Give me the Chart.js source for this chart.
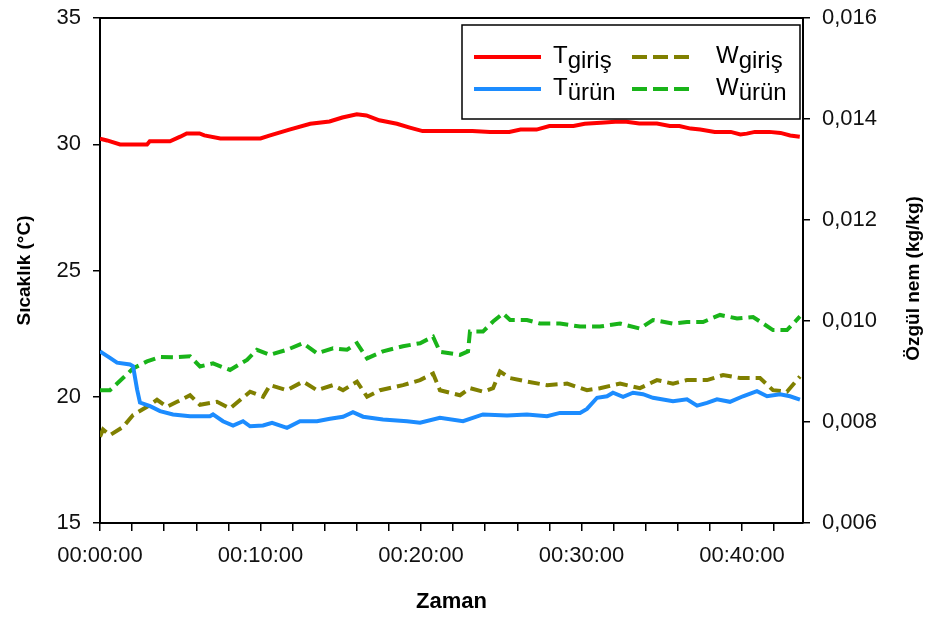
<!DOCTYPE html>
<html>
<head>
<meta charset="utf-8">
<script src="https://cdn.jsdelivr.net/npm/chart.js@4.4.1/dist/chart.umd.min.js"></script>
<style>
  html, body { margin: 0; padding: 0; background: #fff; }
</style>
</head>
<body>
<canvas id="chart" width="934" height="619"></canvas>
<script>
// time axis is in minutes from the start (00:00:00)
const xTickMinutes = [0, 2, 4, 6, 8, 10, 12, 14, 16, 18, 20, 22, 24, 26, 28, 30, 32, 34, 36, 38, 40, 42];
const tempTicks = [15, 20, 25, 30, 35];
const humTicks = [0.006, 0.008, 0.010, 0.012, 0.014, 0.016];

// T giriş (°C)
const tGirisTime = [0, 0.44, 1.25, 2.93, 3.1, 4.36, 5.0, 5.4, 6.2, 6.5, 7.5, 10.0, 10.6, 11.8, 13.1, 14.3, 15.1, 16.0, 16.6, 17.4, 18.5, 19.3, 20.1, 23.2, 24.3, 25.5, 26.2, 27.2, 28.0, 29.5, 30.2, 31.2, 32.1, 32.8, 33.6, 34.7, 35.5, 36.1, 36.8, 37.4, 38.3, 39.3, 39.9, 40.3, 40.8, 41.7, 42.4, 43.0, 43.6];
const tGiris = [30.22, 30.15, 29.99, 29.99, 30.12, 30.12, 30.3, 30.43, 30.43, 30.35, 30.23, 30.23, 30.35, 30.58, 30.81, 30.9, 31.06, 31.19, 31.14, 30.95, 30.81, 30.66, 30.52, 30.52, 30.49, 30.49, 30.58, 30.58, 30.72, 30.72, 30.81, 30.85, 30.89, 30.89, 30.82, 30.82, 30.72, 30.72, 30.62, 30.58, 30.49, 30.49, 30.39, 30.42, 30.49, 30.49, 30.45, 30.35, 30.3];

// T ürün (°C)
const tUrunTime = [0, 0.62, 1.06, 1.87, 2.06, 2.31, 2.49, 3.12, 3.74, 4.55, 5.61, 6.85, 7.04, 7.66, 8.29, 8.91, 9.35, 10.16, 10.72, 11.65, 12.46, 13.52, 14.33, 15.14, 15.76, 16.39, 17.63, 19.13, 19.94, 21.18, 22.62, 23.86, 25.36, 26.6, 27.85, 28.66, 29.91, 30.34, 30.97, 31.59, 31.96, 32.59, 33.21, 33.83, 34.45, 35.7, 36.57, 37.2, 37.82, 38.44, 39.25, 40.06, 40.93, 41.56, 42.37, 42.99, 43.61];
const tUrun = [21.8, 21.54, 21.35, 21.28, 21.21, 20.29, 19.77, 19.63, 19.43, 19.3, 19.23, 19.23, 19.3, 19.03, 18.86, 19.03, 18.83, 18.86, 18.97, 18.77, 19.03, 19.03, 19.13, 19.21, 19.39, 19.21, 19.1, 19.03, 18.97, 19.17, 19.03, 19.3, 19.26, 19.3, 19.23, 19.36, 19.36, 19.52, 19.96, 20.02, 20.16, 20.0, 20.16, 20.1, 19.96, 19.82, 19.9, 19.65, 19.76, 19.9, 19.8, 20.02, 20.22, 20.02, 20.1, 20.02, 19.89];

// W giriş (kg/kg)
const wGirisTime = [0, 0.19, 0.62, 1.43, 2.06, 2.93, 3.55, 4.17, 4.8, 5.61, 6.23, 7.29, 8.1, 9.35, 10.16, 10.59, 11.65, 12.65, 13.52, 14.52, 15.14, 16.01, 16.64, 17.45, 18.88, 19.94, 20.75, 21.18, 22.43, 23.05, 23.86, 24.49, 24.92, 25.55, 26.6, 27.85, 29.1, 30.34, 31.15, 32.4, 33.64, 34.7, 35.7, 36.57, 37.82, 38.82, 39.88, 41.12, 41.93, 42.8, 43.61];
const wGiris = [0.00771, 0.00785, 0.00774, 0.0079, 0.00814, 0.0083, 0.00844, 0.0083, 0.0084, 0.00853, 0.00834, 0.0084, 0.00827, 0.0086, 0.0085, 0.00873, 0.00863, 0.0088, 0.00863, 0.00873, 0.00863, 0.0088, 0.0085, 0.00863, 0.00873, 0.00883, 0.00896, 0.00863, 0.00853, 0.00867, 0.0086, 0.00867, 0.009, 0.00887, 0.0088, 0.00873, 0.00876, 0.00863, 0.00867, 0.00876, 0.00867, 0.00883, 0.00876, 0.00883, 0.00883, 0.00893, 0.00887, 0.00887, 0.00863, 0.0086, 0.0089];

// W ürün (kg/kg)
const wUrunTime = [0, 0.62, 1.43, 2.06, 2.93, 3.74, 4.55, 5.61, 6.23, 7.04, 8.1, 9.16, 9.78, 10.59, 11.65, 12.65, 13.52, 14.52, 15.39, 16.01, 16.64, 17.63, 18.88, 19.94, 20.75, 21.18, 22.43, 22.93, 23.05, 23.86, 24.49, 25.11, 25.55, 26.6, 27.41, 28.66, 29.91, 31.15, 32.4, 33.64, 34.45, 35.7, 36.57, 37.57, 38.63, 39.69, 40.69, 41.93, 42.8, 43.61];
const wUrun = [0.00863, 0.00863, 0.00887, 0.00906, 0.0092, 0.00929, 0.00928, 0.0093, 0.0091, 0.00916, 0.00903, 0.00923, 0.00943, 0.00933, 0.00943, 0.00956, 0.00936, 0.00946, 0.00943, 0.00956, 0.00926, 0.0094, 0.0095, 0.00956, 0.00969, 0.00939, 0.00933, 0.0094, 0.00979, 0.00979, 0.00999, 0.01015, 0.01002, 0.01002, 0.00995, 0.00995, 0.00989, 0.00989, 0.00995, 0.00985, 0.01002, 0.00995, 0.00998, 0.00998, 0.01012, 0.01005, 0.01008, 0.00982, 0.00982, 0.01009];

function pts(xs, ys) {
  let out = [];
  for (let i = 0; i < xs.length; i++) out.push({ x: xs[i], y: ys[i] });
  return out;
}

function timeLabel(m) {
  let mm = String(Math.round(m)).padStart(2, "0");
  return "00:" + mm + ":00";
}

const FONT = "'Liberation Sans', Arial, sans-serif";

// the y scales would otherwise push the plot down for half a label height
function noPad(s) {
  s.paddingTop = 0;
  s.paddingBottom = 0;
}

// legend with subscripts, frame, axis titles
const extras = {
  id: "extras",
  afterDraw(chart) {
    const ctx = chart.ctx;
    const a = chart.chartArea;
    ctx.save();

    // top border of the plot area
    ctx.strokeStyle = "#000";
    ctx.lineWidth = 2;
    ctx.beginPath();
    ctx.moveTo(a.left, a.top);
    ctx.lineTo(a.right, a.top);
    ctx.stroke();

    // axis titles
    ctx.fillStyle = "#000";
    ctx.font = "bold 19px " + FONT;
    ctx.textAlign = "center";
    ctx.textBaseline = "middle";
    let cy = (a.top + a.bottom) / 2;
    ctx.save();
    ctx.translate(25, cy);
    ctx.rotate(-Math.PI / 2);
    ctx.fillText("Sıcaklık (°C)", 0, 0);
    ctx.restore();
    ctx.save();
    ctx.translate(914, cy + 8);
    ctx.rotate(-Math.PI / 2);
    ctx.fillText("Özgül nem (kg/kg)", 0, 0);
    ctx.restore();
    ctx.font = "bold 22px " + FONT;
    ctx.fillText("Zaman", (a.left + a.right) / 2, 602);

    // legend
    ctx.fillStyle = "#fff";
    ctx.fillRect(462, 25, 338, 94);
    ctx.lineWidth = 1.5;
    ctx.strokeStyle = "#000";
    ctx.strokeRect(462, 25, 338, 94);

    const ds = chart.data.datasets;
    const items = [
      { d: ds[0], lx: 474, tx: 553, y: 57, main: "T", sub: "giriş" },
      { d: ds[1], lx: 474, tx: 553, y: 89, main: "T", sub: "ürün" },
      { d: ds[2], lx: 632, tx: 716, y: 57, main: "W", sub: "giriş" },
      { d: ds[3], lx: 632, tx: 716, y: 89, main: "W", sub: "ürün" }
    ];
    for (let i = 0; i < items.length; i++) {
      let it = items[i];
      ctx.strokeStyle = it.d.borderColor;
      ctx.lineWidth = 4;
      let len = it.d.borderDash ? 57 : 67;
      ctx.setLineDash(it.d.borderDash ? [15, 6] : []);
      ctx.beginPath();
      ctx.moveTo(it.lx, it.y);
      ctx.lineTo(it.lx + len, it.y);
      ctx.stroke();
      ctx.setLineDash([]);

      ctx.fillStyle = "#000";
      ctx.textAlign = "left";
      ctx.textBaseline = "alphabetic";
      ctx.font = "24px " + FONT;
      ctx.fillText(it.main, it.tx, it.y + 6);
      let w = ctx.measureText(it.main).width;
      ctx.fillText(it.sub, it.tx + w, it.y + 11);
    }
    ctx.restore();
  }
};

new Chart(document.getElementById("chart"), {
  type: "line",
  data: {
    datasets: [
      { label: "T giriş", data: pts(tGirisTime, tGiris), yAxisID: "y", borderColor: "#ff0000", borderWidth: 4 },
      { label: "T ürün", data: pts(tUrunTime, tUrun), yAxisID: "y", borderColor: "#1c8cff", borderWidth: 4 },
      { label: "W giriş", data: pts(wGirisTime, wGiris), yAxisID: "y1", borderColor: "#808000", borderWidth: 4, borderDash: [12, 6] },
      { label: "W ürün", data: pts(wUrunTime, wUrun), yAxisID: "y1", borderColor: "#19b419", borderWidth: 4, borderDash: [12, 6] }
    ]
  },
  options: {
    responsive: false,
    animation: false,
    devicePixelRatio: 1,
    layout: { padding: { top: 18, left: 0, right: 0, bottom: 0 } },
    elements: { point: { radius: 0 }, line: { tension: 0 } },
    plugins: { legend: { display: false }, tooltip: { enabled: false } },
    scales: {
      x: {
        type: "linear",
        position: "bottom",
        min: 0,
        max: 43.8,
        afterBuildTicks: s => { s.ticks = xTickMinutes.map(v => ({ value: v })); },
        afterFit: s => { s.height = 96; s.paddingLeft = 0; s.paddingRight = 0; },
        ticks: {
          autoSkip: false,
          maxRotation: 0,
          padding: 12,
          color: "#111",
          font: { family: FONT, size: 22 },
          callback: v => (v % 10 === 0 ? timeLabel(v) : "")
        },
        grid: { drawOnChartArea: false, tickLength: 8, color: "#000", lineWidth: 1.5 },
        border: { color: "#000", width: 2 }
      },
      y: {
        position: "left",
        min: 15,
        max: 35,
        afterBuildTicks: s => { s.ticks = tempTicks.map(v => ({ value: v })); },
        afterFit: s => { s.width = 100; noPad(s); },
        ticks: { padding: 12, color: "#111", font: { family: FONT, size: 22 } },
        grid: { drawOnChartArea: false, tickLength: 7, color: "#000", lineWidth: 1.5 },
        border: { color: "#000", width: 2 }
      },
      y1: {
        position: "right",
        min: 0.006,
        max: 0.016,
        afterBuildTicks: s => { s.ticks = humTicks.map(v => ({ value: v })); },
        afterFit: s => { s.width = 131; noPad(s); },
        ticks: {
          padding: 12,
          color: "#111",
          font: { family: FONT, size: 22 },
          callback: v => v.toFixed(3).replace(".", ",")
        },
        grid: { drawOnChartArea: false, tickLength: 7, color: "#000", lineWidth: 1.5 },
        border: { color: "#000", width: 2 }
      }
    }
  },
  plugins: [extras]
});
</script>
</body>
</html>
